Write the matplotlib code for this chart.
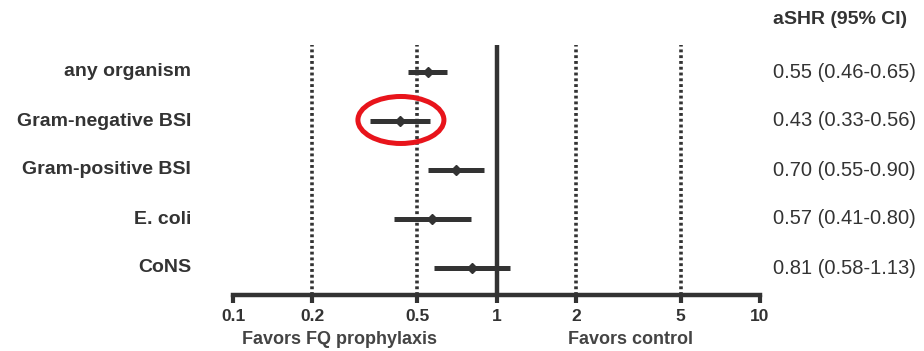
import numpy as np
import matplotlib.pyplot as plt
from matplotlib.patches import Ellipse

plt.rcParams["font.family"] = ["Liberation Sans", "DejaVu Sans"]

# data
labels = ["any organism", "Gram-negative BSI", "Gram-positive BSI", "E. coli", "CoNS"]
ashr = [0.55, 0.43, 0.70, 0.57, 0.81]
ci_lo = [0.46, 0.33, 0.55, 0.41, 0.58]
ci_hi = [0.65, 0.56, 0.90, 0.80, 1.13]
ref_lines = [0.2, 0.5, 2, 5]
ticks = [0.1, 0.2, 0.5, 1, 2, 5, 10]
tick_labels = ["0.1", "0.2", "0.5", "1", "2", "5", "10"]
highlight = 1   # row circled in red

INK = "#333333"
W, H = 924, 351

fig = plt.figure(figsize=(W / 100, H / 100), dpi=100)
ax = fig.add_axes([233 / W, 1 - 295 / H, 527 / W, 250 / H])

ax.set_xscale("log")
ax.set_xlim(0.1, 10)
ax.set_ylim(4.55, -0.55)

rows = np.arange(len(labels))

for x in ref_lines:
    ax.axvline(x, color=INK, lw=2.6, ls=(0, (0.8, 0.8)), zorder=1)
ax.axvline(1, color=INK, lw=3.2, zorder=2)

ax.hlines(rows, ci_lo, ci_hi, color=INK, lw=3.6, zorder=3)
ax.plot(ashr, rows, ls="none", marker="D", ms=5, color=INK, zorder=4)

for s in ["top", "right", "left"]:
    ax.spines[s].set_visible(False)
ax.spines["bottom"].set_linewidth(3.2)
ax.spines["bottom"].set_color(INK)
ax.set_yticks([])
ax.set_xticks(ticks)
ax.set_xticklabels(tick_labels)
ax.xaxis.set_minor_locator(plt.NullLocator())
ax.tick_params(axis="x", direction="out", length=6, width=3, color=INK,
               labelsize=12.5, labelcolor=INK, pad=4)
for t in ax.get_xticklabels():
    t.set_fontweight("bold")

# row labels and estimates
for i, lab in enumerate(labels):
    y = 1 - (72 + 49 * i) / H
    fig.text(191 / W, y, lab, ha="right", va="center", fontsize=14,
             fontweight="bold", color=INK)
    fig.text(773 / W, y, f"{ashr[i]:.2f} ({ci_lo[i]:.2f}-{ci_hi[i]:.2f})",
             ha="left", va="center", fontsize=14.5, color=INK)

fig.text(773 / W, 1 - 19 / H, "aSHR (95% CI)", ha="left", va="center",
         fontsize=14, fontweight="bold", color=INK)
fig.text(340 / W, 1 - 339 / H, "Favors FQ prophylaxis", ha="center", va="center",
         fontsize=13, fontweight="bold", color="#444444")
fig.text(631 / W, 1 - 339 / H, "Favors control", ha="center", va="center",
         fontsize=13, fontweight="bold", color="#444444")

# red circle around the highlighted row
fig.canvas.draw()
cx, cy = fig.transFigure.inverted().transform(
    ax.transData.transform((ashr[highlight], rows[highlight])))
fig.patches.append(Ellipse((cx + 1 / W, cy + 1 / H), 86 / W, 47 / H,
                           transform=fig.transFigure, fill=False,
                           edgecolor="#e8141b", lw=3.6, zorder=10))

fig.savefig("out.png", dpi=100, facecolor="white")
